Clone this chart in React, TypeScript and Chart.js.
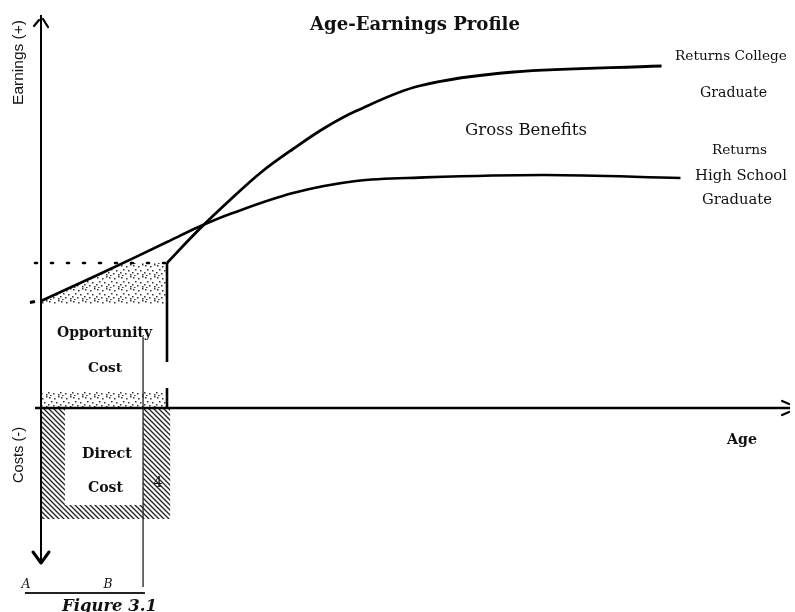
import React, { useEffect, useRef } from "react";
import { Chart, registerables } from "chart.js";

Chart.register(...registerables);

// ---------------- data (age in years, earnings in arbitrary units) ----------------
const hsAges = [18, 20, 22, 23, 24, 26, 28, 30, 34, 38.3];
const hsEarnings = [26.75, 34, 41.5, 45.25, 48.5, 53.75, 56.75, 57.6, 58.25, 57.5];

const collegeAges = [22, 23, 24, 25, 26, 27, 28, 30, 33, 37.7];
const collegeEarnings = [36.25, 44.5, 52, 59, 64.75, 70, 74.25, 80.5, 84, 85.5];

// college graduate's starting earnings (dotted reference level)
const startLevelAges = [17.81, 22];
const startLevel = 36.25;

// schooling period
const schoolStart = 18;
const schoolEnd = 22;
const pointB = 21.24;
const pointA = 17.49;

// opportunity cost shaded bands
const oppBandLow = 25.75;
const oppBandHigh = 4;

// direct cost box (negative = costs)
const directCostEnd = 22.1;
const directCostDepth = -27.75;
const directInnerLeft = 18.76;
const directInnerDepth = -24.25;

// axes extents
const yAxisTop = 98.25;
const yAxisBottom = -38.75;
const xAxisLeft = 17.81;
const xAxisRight = 41.78;

// vertical marker at graduation
const gradLineUpper = [36.25, 11.5];
const gradLineLower = [5, 0];
const bLineRange = [17.75, -44.75];
const abBarLevel = -46.25;
const hsTickAges = [17.65, 17.81];
const hsTickVals = [26.4, 26.6];

// scale layout
const W = 795;
const H = 612;
const AXIS_PX = 41;
const PX_PER_YEAR = 31.5;
const AXIS_PY = 408;
const PX_PER_UNIT = 4;
const X_MIN = schoolStart - AXIS_PX / PX_PER_YEAR;
const X_MAX = schoolStart + (W - AXIS_PX) / PX_PER_YEAR;
const Y_MAX = AXIS_PY / PX_PER_UNIT;
const Y_MIN = -(H - AXIS_PY) / PX_PER_UNIT;

const SERIF = '"DejaVu Serif"';
const SANS = '"Liberation Sans"';

type Label = {
  text: string;
  cx: number;
  by: number;
  width: number;
  family: string;
  bold?: boolean;
  italic?: boolean;
  rotate?: boolean;
};

const labels: Label[] = [
  { text: "Age-Earnings Profile", cx: 415, by: 30, width: 210, family: SERIF, bold: true },
  { text: "Gross Benefits", cx: 526, by: 135, width: 122, family: SERIF },
  { text: "Returns College", cx: 731, by: 60, width: 112, family: SERIF },
  { text: "Graduate", cx: 733.5, by: 97, width: 67, family: SERIF },
  { text: "Returns", cx: 739.5, by: 154, width: 55, family: SERIF },
  { text: "High School", cx: 741, by: 180, width: 92, family: SERIF },
  { text: "Graduate", cx: 737, by: 204, width: 70, family: SERIF },
  { text: "Opportunity", cx: 104.5, by: 337, width: 95, family: SERIF, bold: true },
  { text: "Cost", cx: 105, by: 372, width: 34, family: SERIF, bold: true },
  { text: "Direct", cx: 107, by: 458, width: 50, family: SERIF, bold: true },
  { text: "Cost", cx: 105.5, by: 492, width: 35, family: SERIF, bold: true },
  { text: "4", cx: 158, by: 487, width: 9, family: SERIF },
  { text: "Age", cx: 742, by: 444, width: 30, family: SERIF, bold: true },
  { text: "Earnings (+)", cx: 18.5, by: 62.5, width: 85, family: SANS, rotate: true },
  { text: "Costs (-)", cx: 18.5, by: 455, width: 56, family: SANS, rotate: true },
  { text: "A", cx: 26, by: 588, width: 9, family: SERIF, italic: true },
  { text: "B", cx: 108, by: 588, width: 9, family: SERIF, italic: true },
  { text: "Figure 3.1", cx: 109.5, by: 611, width: 95, family: SERIF, italic: true, bold: true },
];

function pts(xs: number[], ys: number[]) {
  return xs.map((x, i) => ({ x, y: ys[i] }));
}

function makeStipple(): CanvasPattern | string {
  const c = document.createElement("canvas");
  c.width = 12;
  c.height = 12;
  const g = c.getContext("2d");
  if (!g) return "#ccc";
  g.fillStyle = "#333";
  const dots = [
    [1, 1], [6, 2], [10, 0], [3, 5], [8, 6], [0, 8], [5, 9], [10, 10], [2, 11],
  ];
  dots.forEach(([a, b]) => g.fillRect(a, b, 1.5, 1.5));
  const p = g.createPattern(c, "repeat");
  return p || "#ccc";
}

function makeHatch(): CanvasPattern | string {
  const s = 5;
  const c = document.createElement("canvas");
  c.width = s;
  c.height = s;
  const g = c.getContext("2d");
  if (!g) return "#555";
  g.strokeStyle = "#222";
  g.lineWidth = 1.3;
  g.beginPath();
  g.moveTo(-1, -1);
  g.lineTo(s + 1, s + 1);
  g.moveTo(-1, s - 1);
  g.lineTo(1, s + 1);
  g.moveTo(s - 1, -1);
  g.lineTo(s + 1, 1);
  g.stroke();
  const p = g.createPattern(c, "repeat");
  return p || "#555";
}

function drawLabel(ctx: CanvasRenderingContext2D, t: Label) {
  ctx.save();
  const pre = (t.italic ? "italic " : "") + (t.bold ? "bold " : "");
  ctx.font = `${pre}20px ${t.family}`;
  const mw = ctx.measureText(t.text).width || 1;
  const size = (20 * t.width) / mw;
  ctx.font = `${pre}${size.toFixed(2)}px ${t.family}`;
  ctx.fillStyle = "#111";
  ctx.textAlign = "center";
  if (t.rotate) {
    ctx.translate(t.cx, t.by);
    ctx.rotate(-Math.PI / 2);
    ctx.textBaseline = "middle";
    ctx.fillText(t.text, 0, 0);
  } else {
    ctx.textBaseline = "alphabetic";
    ctx.fillText(t.text, t.cx, t.by);
  }
  ctx.restore();
}

const diagramPlugin = {
  id: "diagram",
  beforeDatasetsDraw(chart: any) {
    const { ctx } = chart;
    const x = chart.scales.x;
    const y = chart.scales.y;
    const stipple = makeStipple();
    const hatch = makeHatch();

    // ---- opportunity cost stipple (below HS curve and below start level) ----
    const xL = x.getPixelForValue(schoolStart);
    const xR = x.getPixelForValue(schoolEnd);
    const yTop = y.getPixelForValue(startLevel);
    const y0 = y.getPixelForValue(0);
    ctx.save();
    ctx.beginPath();
    ctx.rect(xL, yTop, xR - xL, y0 - yTop);
    ctx.clip();
    const meta = chart.getDatasetMeta(0);
    const line = meta.dataset;
    const points = meta.data;
    ctx.beginPath();
    if (line && typeof line.path === "function") {
      line.path(ctx);
    } else {
      points.forEach((p: any, i: number) => (i ? ctx.lineTo(p.x, p.y) : ctx.moveTo(p.x, p.y)));
    }
    const last = points[points.length - 1];
    const first = points[0];
    ctx.lineTo(last.x, y0 + 20);
    ctx.lineTo(first.x, y0 + 20);
    ctx.closePath();
    ctx.clip();
    ctx.fillStyle = stipple;
    ctx.fillRect(xL, yTop, xR - xL, y0 - yTop);
    ctx.fillStyle = "#fff";
    const yb1 = y.getPixelForValue(oppBandLow);
    const yb2 = y.getPixelForValue(oppBandHigh);
    ctx.fillRect(xL, yb1, xR - xL, yb2 - yb1);
    ctx.restore();

    // ---- direct cost hatched box ----
    const dR = x.getPixelForValue(directCostEnd);
    const dB = y.getPixelForValue(directCostDepth);
    ctx.save();
    ctx.fillStyle = hatch;
    ctx.fillRect(xL, y0, dR - xL, dB - y0);
    const iL = x.getPixelForValue(directInnerLeft);
    const iR = x.getPixelForValue(pointB);
    const iB = y.getPixelForValue(directInnerDepth);
    ctx.fillStyle = "#fff";
    ctx.fillRect(iL, y0, iR - iL, iB - y0);
    ctx.restore();
  },
  afterDatasetsDraw(chart: any) {
    const { ctx } = chart;
    const x = chart.scales.x;
    const y = chart.scales.y;
    ctx.save();
    ctx.strokeStyle = "#000";
    ctx.lineCap = "round";
    ctx.lineJoin = "round";
    // top arrow of earnings axis
    const ax = x.getPixelForValue(schoolStart);
    const at = y.getPixelForValue(yAxisTop);
    ctx.lineWidth = 2.2;
    ctx.beginPath();
    ctx.moveTo(ax - 7, at + 11);
    ctx.lineTo(ax - 2, at + 5);
    ctx.moveTo(ax + 7, at + 12);
    ctx.lineTo(ax + 2, at + 4);
    ctx.stroke();
    // bottom arrow of cost axis
    const ab = y.getPixelForValue(yAxisBottom);
    ctx.lineWidth = 3;
    ctx.beginPath();
    ctx.moveTo(ax - 8, ab - 11);
    ctx.lineTo(ax, ab);
    ctx.lineTo(ax + 8, ab - 11);
    ctx.stroke();
    // right arrow of age axis
    const rx = x.getPixelForValue(xAxisRight);
    const ry = y.getPixelForValue(0);
    ctx.lineWidth = 2.2;
    ctx.beginPath();
    ctx.moveTo(rx - 8, ry - 7);
    ctx.lineTo(rx - 1, ry - 4);
    ctx.moveTo(rx - 8, ry + 7);
    ctx.lineTo(rx - 1, ry + 4);
    ctx.stroke();
    ctx.restore();

    labels.forEach((t) => drawLabel(ctx, t));
  },
};

export default function App() {
  const ref = useRef<HTMLCanvasElement | null>(null);
  useEffect(() => {
    if (!ref.current) return;
    const black = "#000";
    const base = {
      pointRadius: 0,
      fill: false,
      clip: false as any,
      borderColor: black,
    };
    const chart = new Chart(ref.current, {
      type: "line",
      data: {
        datasets: [
          {
            ...base,
            label: "Returns High School Graduate",
            data: pts(hsAges, hsEarnings),
            borderWidth: 2.6,
            tension: 0.35,
          },
          {
            ...base,
            label: "Returns College Graduate",
            data: pts(collegeAges, collegeEarnings),
            borderWidth: 2.8,
            tension: 0.35,
          },
          {
            ...base,
            label: "Start level",
            data: pts(startLevelAges, [startLevel, startLevel]),
            borderWidth: 2.6,
            borderDash: [2, 14],
            borderCapStyle: "round",
          },
          {
            ...base,
            label: "Graduation",
            data: [
              { x: schoolEnd, y: gradLineUpper[0] },
              { x: schoolEnd, y: gradLineUpper[1] },
              { x: schoolEnd, y: null },
              { x: schoolEnd, y: gradLineLower[0] },
              { x: schoolEnd, y: gradLineLower[1] },
            ],
            spanGaps: false,
            borderWidth: 2.6,
          },
          {
            ...base,
            label: "B line",
            data: pts([pointB, pointB], bLineRange),
            borderWidth: 1.3,
            borderColor: "#222",
          },
          {
            ...base,
            label: "A-B",
            data: pts([pointA, pointB + 0.06], [abBarLevel, abBarLevel]),
            borderWidth: 2,
            borderColor: "#222",
          },
          {
            ...base,
            label: "HS tick",
            data: pts(hsTickAges, hsTickVals),
            borderWidth: 3,
          },
          {
            ...base,
            label: "Earnings axis",
            data: pts([schoolStart, schoolStart], [yAxisTop, yAxisBottom]),
            borderWidth: 2,
          },
          {
            ...base,
            label: "Age axis",
            data: pts([xAxisLeft, xAxisRight], [0, 0]),
            borderWidth: 2.6,
          },
        ] as any,
      },
      options: {
        animation: false,
        responsive: false,
        events: [],
        layout: { padding: 0 },
        plugins: {
          legend: { display: false },
          tooltip: { enabled: false },
          title: { display: false },
        },
        scales: {
          x: { type: "linear", min: X_MIN, max: X_MAX, display: false },
          y: { type: "linear", min: Y_MIN, max: Y_MAX, display: false },
        },
      },
      plugins: [diagramPlugin],
    });
    return () => chart.destroy();
  }, []);
  return (
    <div style={{ position: "fixed", left: 0, top: 0, width: W, height: H, background: "#fff" }}>
      <canvas ref={ref} width={W} height={H} style={{ display: "block" }} />
    </div>
  );
}
